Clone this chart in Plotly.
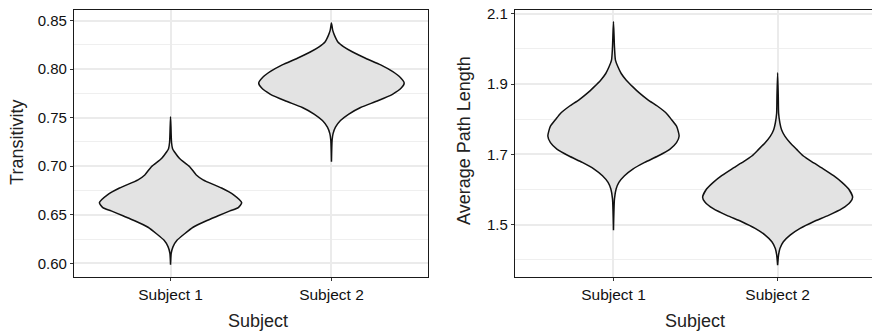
import plotly.graph_objects as go

# ---------------- data ----------------
categories = ["Subject 1", "Subject 2"]

# Transitivity violins: y values and half-widths (in category units)
trans_s1_y = [0.7510, 0.7247, 0.7180, 0.7146, 0.7079, 0.6995, 0.6910, 0.6860, 0.6775, 0.6708,
              0.6624, 0.6573, 0.6540, 0.6489, 0.6438, 0.6371, 0.6304, 0.6236, 0.6169, 0.6101, 0.5984]
trans_s1_w = [0.000, 0.006, 0.0125, 0.025, 0.056, 0.119, 0.160, 0.202, 0.317, 0.390,
              0.442, 0.421, 0.369, 0.296, 0.223, 0.140, 0.0875, 0.040, 0.015, 0.004, 0.000]

trans_s2_y = [0.8476, 0.8399, 0.8348, 0.8280, 0.8230, 0.8179, 0.8112, 0.8044, 0.7976, 0.7909,
              0.7858, 0.7807, 0.7740, 0.7672, 0.7605, 0.7537, 0.7470, 0.7402, 0.7335, 0.7267, 0.7047]
trans_s2_w = [0.000, 0.008, 0.019, 0.040, 0.077, 0.129, 0.212, 0.306, 0.379, 0.431,
              0.452, 0.435, 0.379, 0.285, 0.181, 0.108, 0.056, 0.025, 0.010, 0.004, 0.000]

# Average path length violins
apl_s1_y = [2.078, 2.005, 1.968, 1.949, 1.930, 1.911, 1.892, 1.874, 1.855, 1.836, 1.817, 1.799,
            1.780, 1.752, 1.733, 1.714, 1.695, 1.677, 1.658, 1.639, 1.620, 1.601, 1.573, 1.484]
apl_s1_w = [0.000, 0.006, 0.012, 0.027, 0.047, 0.078, 0.118, 0.159, 0.210, 0.271, 0.322, 0.353,
            0.384, 0.400, 0.384, 0.343, 0.271, 0.190, 0.118, 0.067, 0.033, 0.016, 0.006, 0.000]

apl_s2_y = [1.932, 1.864, 1.817, 1.789, 1.770, 1.751, 1.733, 1.714, 1.695, 1.676, 1.658, 1.639,
            1.620, 1.601, 1.578, 1.564, 1.545, 1.526, 1.508, 1.489, 1.470, 1.451, 1.432, 1.414, 1.384]
apl_s2_w = [0.000, 0.004, 0.006, 0.014, 0.024, 0.045, 0.076, 0.116, 0.157, 0.218, 0.280, 0.341,
            0.392, 0.433, 0.457, 0.443, 0.392, 0.310, 0.218, 0.137, 0.076, 0.035, 0.014, 0.006, 0.000]

trans_ticks = [0.60, 0.65, 0.70, 0.75, 0.80, 0.85]
apl_ticks = [1.5, 1.7, 1.9, 2.1]

FILL = "#e3e3e3"
LINE = "#111111"
GRID = "#ebebeb"
MINOR = "#efefef"
FONT = "Liberation Sans, Arial, sans-serif"


def violin(pos, ys, ws, xa, ya):
    xs = [pos + w for w in ws] + [pos - w for w in reversed(ws)]
    yy = list(ys) + list(reversed(ys))
    return go.Scatter(x=xs, y=yy, mode="lines", fill="toself", fillcolor=FILL,
                      line=dict(color=LINE, width=1.5, shape="spline", smoothing=0.6),
                      xaxis=xa, yaxis=ya, hoverinfo="skip", showlegend=False)


fig = go.Figure()
fig.add_trace(violin(0, trans_s1_y, trans_s1_w, "x", "y"))
fig.add_trace(violin(1, trans_s2_y, trans_s2_w, "x", "y"))
fig.add_trace(violin(0, apl_s1_y, apl_s1_w, "x2", "y2"))
fig.add_trace(violin(1, apl_s2_y, apl_s2_w, "x2", "y2"))

H = 333
W = 872
ydom = [(H - 276) / H, (H - 5) / H]

common_x = dict(tickvals=[0, 1], ticktext=categories, showgrid=True, gridcolor=GRID, gridwidth=2,
                zeroline=False, showline=True, linecolor="#1a1a1a", linewidth=1.2, mirror=True,
                ticks="outside", ticklen=3, tickcolor="#333333", tickwidth=1,
                tickfont=dict(family=FONT, size=15.5, color="#111111"))
common_y = dict(showgrid=True, gridcolor=GRID, gridwidth=2, zeroline=False, showline=True,
                linecolor="#1a1a1a", linewidth=1.2, ticks="outside", ticklen=3, tickcolor="#333333",
                tickwidth=1, tickfont=dict(family=FONT, size=15, color="#111111"),
                domain=ydom)

fig.update_layout(
    width=W, height=H, margin=dict(l=0, r=0, t=0, b=0),
    paper_bgcolor="white", plot_bgcolor="white",
    xaxis=dict(domain=[74 / W, 428 / W], range=[-0.6, 1.6], anchor="y", **common_x),
    yaxis=dict(range=[0.586, 0.861], tickvals=trans_ticks, ticktext=[f"{v:.2f}" for v in trans_ticks],
               minor=dict(showgrid=True, gridcolor=MINOR, gridwidth=1.2, dtick=0.025, tick0=0.6, ticks=""),
               mirror=True, anchor="x", **common_y),
    xaxis2=dict(domain=[515 / W, 1.0], range=[-0.6, 1.575], anchor="y2", **common_x),
    yaxis2=dict(range=[1.351, 2.111], tickvals=apl_ticks, ticktext=[f"{v:.1f}" for v in apl_ticks],
                minor=dict(showgrid=True, gridcolor=MINOR, gridwidth=1.2, dtick=0.1, tick0=1.4, ticks=""),
                mirror=False, anchor="x2", **common_y),
    annotations=[
        dict(text="Subject", x=258 / W, y=(H - 321) / H, xref="paper", yref="paper", showarrow=False,
             font=dict(family=FONT, size=18, color="#222222"), xanchor="center", yanchor="middle"),
        dict(text="Subject", x=695 / W, y=(H - 321) / H, xref="paper", yref="paper", showarrow=False,
             font=dict(family=FONT, size=18, color="#222222"), xanchor="center", yanchor="middle"),
        dict(text="Transitivity", x=17 / W, y=(H - 140) / H, xref="paper", yref="paper", showarrow=False,
             textangle=-90, font=dict(family=FONT, size=18, color="#222222"), xanchor="center", yanchor="middle"),
        dict(text="Average Path Length", x=464 / W, y=(H - 138) / H, xref="paper", yref="paper", showarrow=False,
             textangle=-90, font=dict(family=FONT, size=18, color="#222222"), xanchor="center", yanchor="middle"),
    ],
)

fig.write_html("out.html")
